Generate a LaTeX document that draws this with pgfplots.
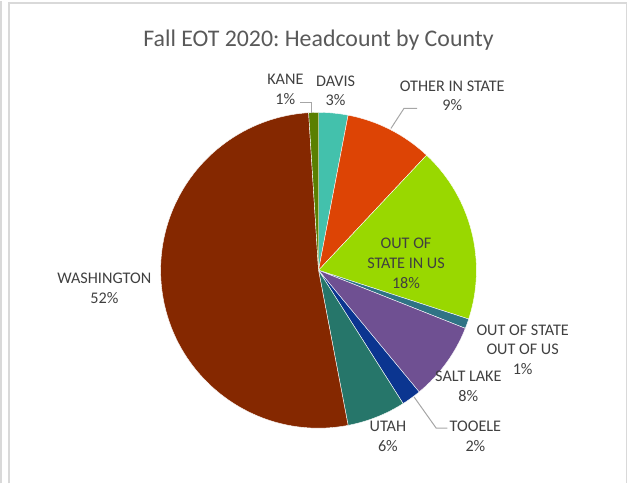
\documentclass[border=0pt]{standalone}
\usepackage{pgfplots}
\usepackage{pgfplotstable}
\pgfplotsset{compat=1.18}
\usepackage{fontspec}
\setmainfont{Carlito}
\frenchspacing

\definecolor{cDavis}{RGB}{67,193,172}
\definecolor{cOther}{RGB}{221,68,5}
\definecolor{cOutUS}{RGB}{153,216,0}
\definecolor{cOutNonUS}{RGB}{47,115,133}
\definecolor{cSaltLake}{RGB}{111,80,146}
\definecolor{cTooele}{RGB}{11,53,144}
\definecolor{cUtah}{RGB}{38,118,106}
\definecolor{cWashington}{RGB}{133,40,0}
\definecolor{cKane}{RGB}{90,127,0}
\definecolor{labelgray}{RGB}{64,64,64}
\definecolor{titlegray}{RGB}{89,89,89}
\definecolor{leader}{RGB}{166,166,166}
\definecolor{frame}{RGB}{217,217,217}

\tikzset{lbl/.style={font=\fontsize{16.1}{19.5}\selectfont, text=labelgray, align=center, inner sep=0pt}}

% clockwise from 12 o'clock
\pgfplotstableread{
county      pct col
Davis       3   cDavis
Other       9   cOther
OutUS       18  cOutUS
OutNonUS    1   cOutNonUS
SaltLake    8   cSaltLake
Tooele      2   cTooele
Utah        6   cUtah
Washington  52  cWashington
Kane        1   cKane
}\pie

\begin{document}
\begin{tikzpicture}
\begin{axis}[
  hide axis, scale only axis, clip=false,
  width=627pt, height=485pt,
  xmin=0, xmax=627, ymin=0, ymax=485,
]
% chart frame
\draw[frame, line width=1.5pt] (axis cs:4,0) -- (axis cs:4,480);
\draw[frame, line width=1.5pt] (axis cs:12,0) -- (axis cs:12,478) -- (axis cs:626,478) -- (axis cs:626,0);

% wedges
\pgfplotstablegetrowsof{\pie}
\pgfmathtruncatemacro\N{\pgfplotsretval-1}
\def\start{90}
\pgfplotsforeachungrouped \i in {0,...,\N}{
  \pgfplotstablegetelem{\i}{pct}\of\pie \let\p\pgfplotsretval
  \pgfplotstablegetelem{\i}{col}\of\pie \let\c\pgfplotsretval
  \pgfmathsetmacro\stop{\start-3.6*\p}
  \edef\temp{\noexpand\fill[\c, draw=white, line width=0.4pt] (axis cs:320,212) -- ++(\start:157pt) arc[start angle=\start, end angle=\stop, radius=157pt] -- cycle;}
  \temp
  \let\start\stop
}

% leader lines
\draw[leader, line width=1pt] (axis cs:302,379) -- (axis cs:313,379) -- (axis cs:313,368);
\draw[leader, line width=1pt] (axis cs:392,353) -- (axis cs:405,373) -- (axis cs:418,373);
\draw[leader, line width=1pt] (axis cs:415,86) -- (axis cs:437,55) -- (axis cs:448,55);

% labels
\node[lbl] at (axis cs:287,392) {KANE\\1\%};
\node[lbl] at (axis cs:337,390.5) {DAVIS\\3\%};
\node[lbl] at (axis cs:453,385.5) {OTHER IN STATE\\9\%};
\node[lbl] at (axis cs:407,219) {OUT OF\\STATE IN US\\18\%};
\node[lbl] at (axis cs:523,133) {OUT OF STATE\\OUT OF US\\1\%};
\node[lbl] at (axis cs:469,96.5) {SALT LAKE\\8\%};
\node[lbl] at (axis cs:476,47) {TOOELE\\2\%};
\node[lbl] at (axis cs:389,47) {UTAH\\6\%};
\node[lbl] at (axis cs:107,194) {WASHINGTON\\52\%};

% title
\node[font=\fontsize{23.7}{28}\selectfont, text=titlegray, inner sep=0pt, anchor=base] at (axis cs:320,435) {Fall EOT 2020: Headcount by County};
\end{axis}
\end{tikzpicture}
\end{document}
